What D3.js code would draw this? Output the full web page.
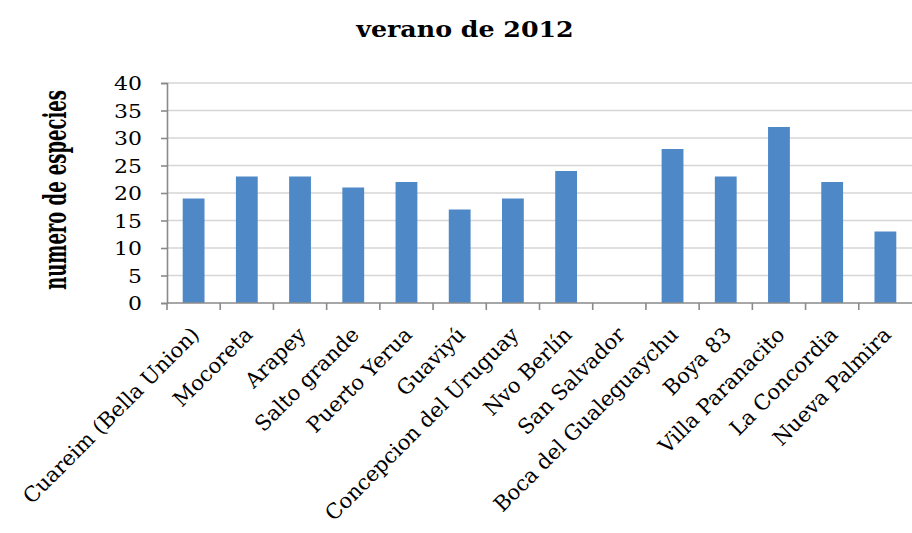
<!DOCTYPE html>
<html>
<head>
<meta charset="utf-8">
<script src="https://cdn.jsdelivr.net/npm/d3@7"></script>
<style>
  html, body { margin: 0; padding: 0; background: #fff; }
  svg { display: block; }
  text { font-family: "DejaVu Serif", "Liberation Serif", serif; fill: #000; }
</style>
</head>
<body>
<svg id="chart" width="912" height="533"></svg>
<script>
// Species count per sampling site, summer 2012
const sites = [
  "Cuareim (Bella Union)", "Mocoreta", "Arapey", "Salto grande", "Puerto Yerua",
  "Guaviyú", "Concepcion del Uruguay", "Nvo Berlín", "San Salvador",
  "Boca del Gualeguaychu", "Boya 83", "Villa Paranacito", "La Concordia", "Nueva Palmira"
];
const species = [19, 23, 23, 21, 22, 17, 19, 24, 0, 28, 23, 32, 22, 13];
const yTicks = [0, 5, 10, 15, 20, 25, 30, 35, 40];
const chartTitle = "verano de 2012";
const yTitle = "numero de especies";

const svg = d3.select("#chart");
const W = 912, H = 533;
const plot = { left: 167, right: 912, top: 83, bottom: 303 };

svg.append("rect").attr("width", W).attr("height", H).attr("fill", "#fff");

// Category bands (boundaries carry the tick marks) and value scale
const x = d3.scaleBand().domain(sites).range([plot.left, plot.right]);
const y = d3.scaleLinear().domain([0, 40]).range([plot.bottom, plot.top]);
const barFrac = 0.41;

// Horizontal gridlines
svg.append("g")
  .selectAll("line")
  .data(yTicks.filter(d => d > 0))
  .join("line")
  .attr("x1", plot.left).attr("x2", plot.right)
  .attr("y1", d => y(d)).attr("y2", d => y(d))
  .attr("stroke", "#d6d6d6").attr("stroke-width", 1.6);

// Bars
svg.append("g")
  .selectAll("rect")
  .data(sites.map((s, i) => ({ s, v: species[i] })))
  .join("rect")
  .attr("x", d => x(d.s) + x.bandwidth() * (1 - barFrac) / 2)
  .attr("width", x.bandwidth() * barFrac)
  .attr("y", d => y(d.v))
  .attr("height", d => y(0) - y(d.v))
  .attr("fill", "#4f88c7");

// Y axis
const yAxis = svg.append("g")
  .attr("transform", `translate(${plot.left},0)`)
  .call(d3.axisLeft(y).tickValues(yTicks).tickSize(6).tickPadding(0));
yAxis.select(".domain").attr("stroke", "#8a8a8a").attr("stroke-width", 1.6);
yAxis.selectAll(".tick line").attr("stroke", "#8a8a8a").attr("stroke-width", 1.6);
yAxis.selectAll(".tick text")
  .attr("x", null).attr("dy", null)
  .attr("font-size", 18)
  .attr("font-family", "DejaVu Serif")
  .attr("text-anchor", "end")
  .attr("transform", "translate(-25,6.5) scale(1.22,1)");

// X axis: line with tick marks at band boundaries
const xAxis = svg.append("g").attr("transform", `translate(0,${plot.bottom})`);
xAxis.append("line")
  .attr("x1", plot.left).attr("x2", plot.right)
  .attr("stroke", "#8a8a8a").attr("stroke-width", 1.6);
xAxis.selectAll("line.tk")
  .data(sites)
  .join("line")
  .attr("class", "tk")
  .attr("x1", d => x(d)).attr("x2", d => x(d))
  .attr("y1", 0).attr("y2", 7)
  .attr("stroke", "#8a8a8a").attr("stroke-width", 1.6);

// Rotated category labels
xAxis.selectAll("text.cat")
  .data(sites)
  .join("text")
  .attr("class", "cat")
  .attr("text-anchor", "end")
  .attr("font-size", 21)
  .attr("transform", d => `translate(${x(d) + x.bandwidth() / 2 + 7},${33}) rotate(-45)`)
  .text(d => d);

// Title
svg.append("text")
  .attr("transform", "translate(465,37) scale(1.15,1)")
  .attr("text-anchor", "middle")
  .attr("font-size", 22)
  .attr("font-weight", "bold")
  .text(chartTitle);

// Y axis title
svg.append("text")
  .attr("transform", "translate(66,190) scale(1.75,1) rotate(-90)")
  .attr("text-anchor", "middle")
  .attr("font-size", 18)
  .attr("font-weight", "bold")
  .text(yTitle);
</script>
</body>
</html>
